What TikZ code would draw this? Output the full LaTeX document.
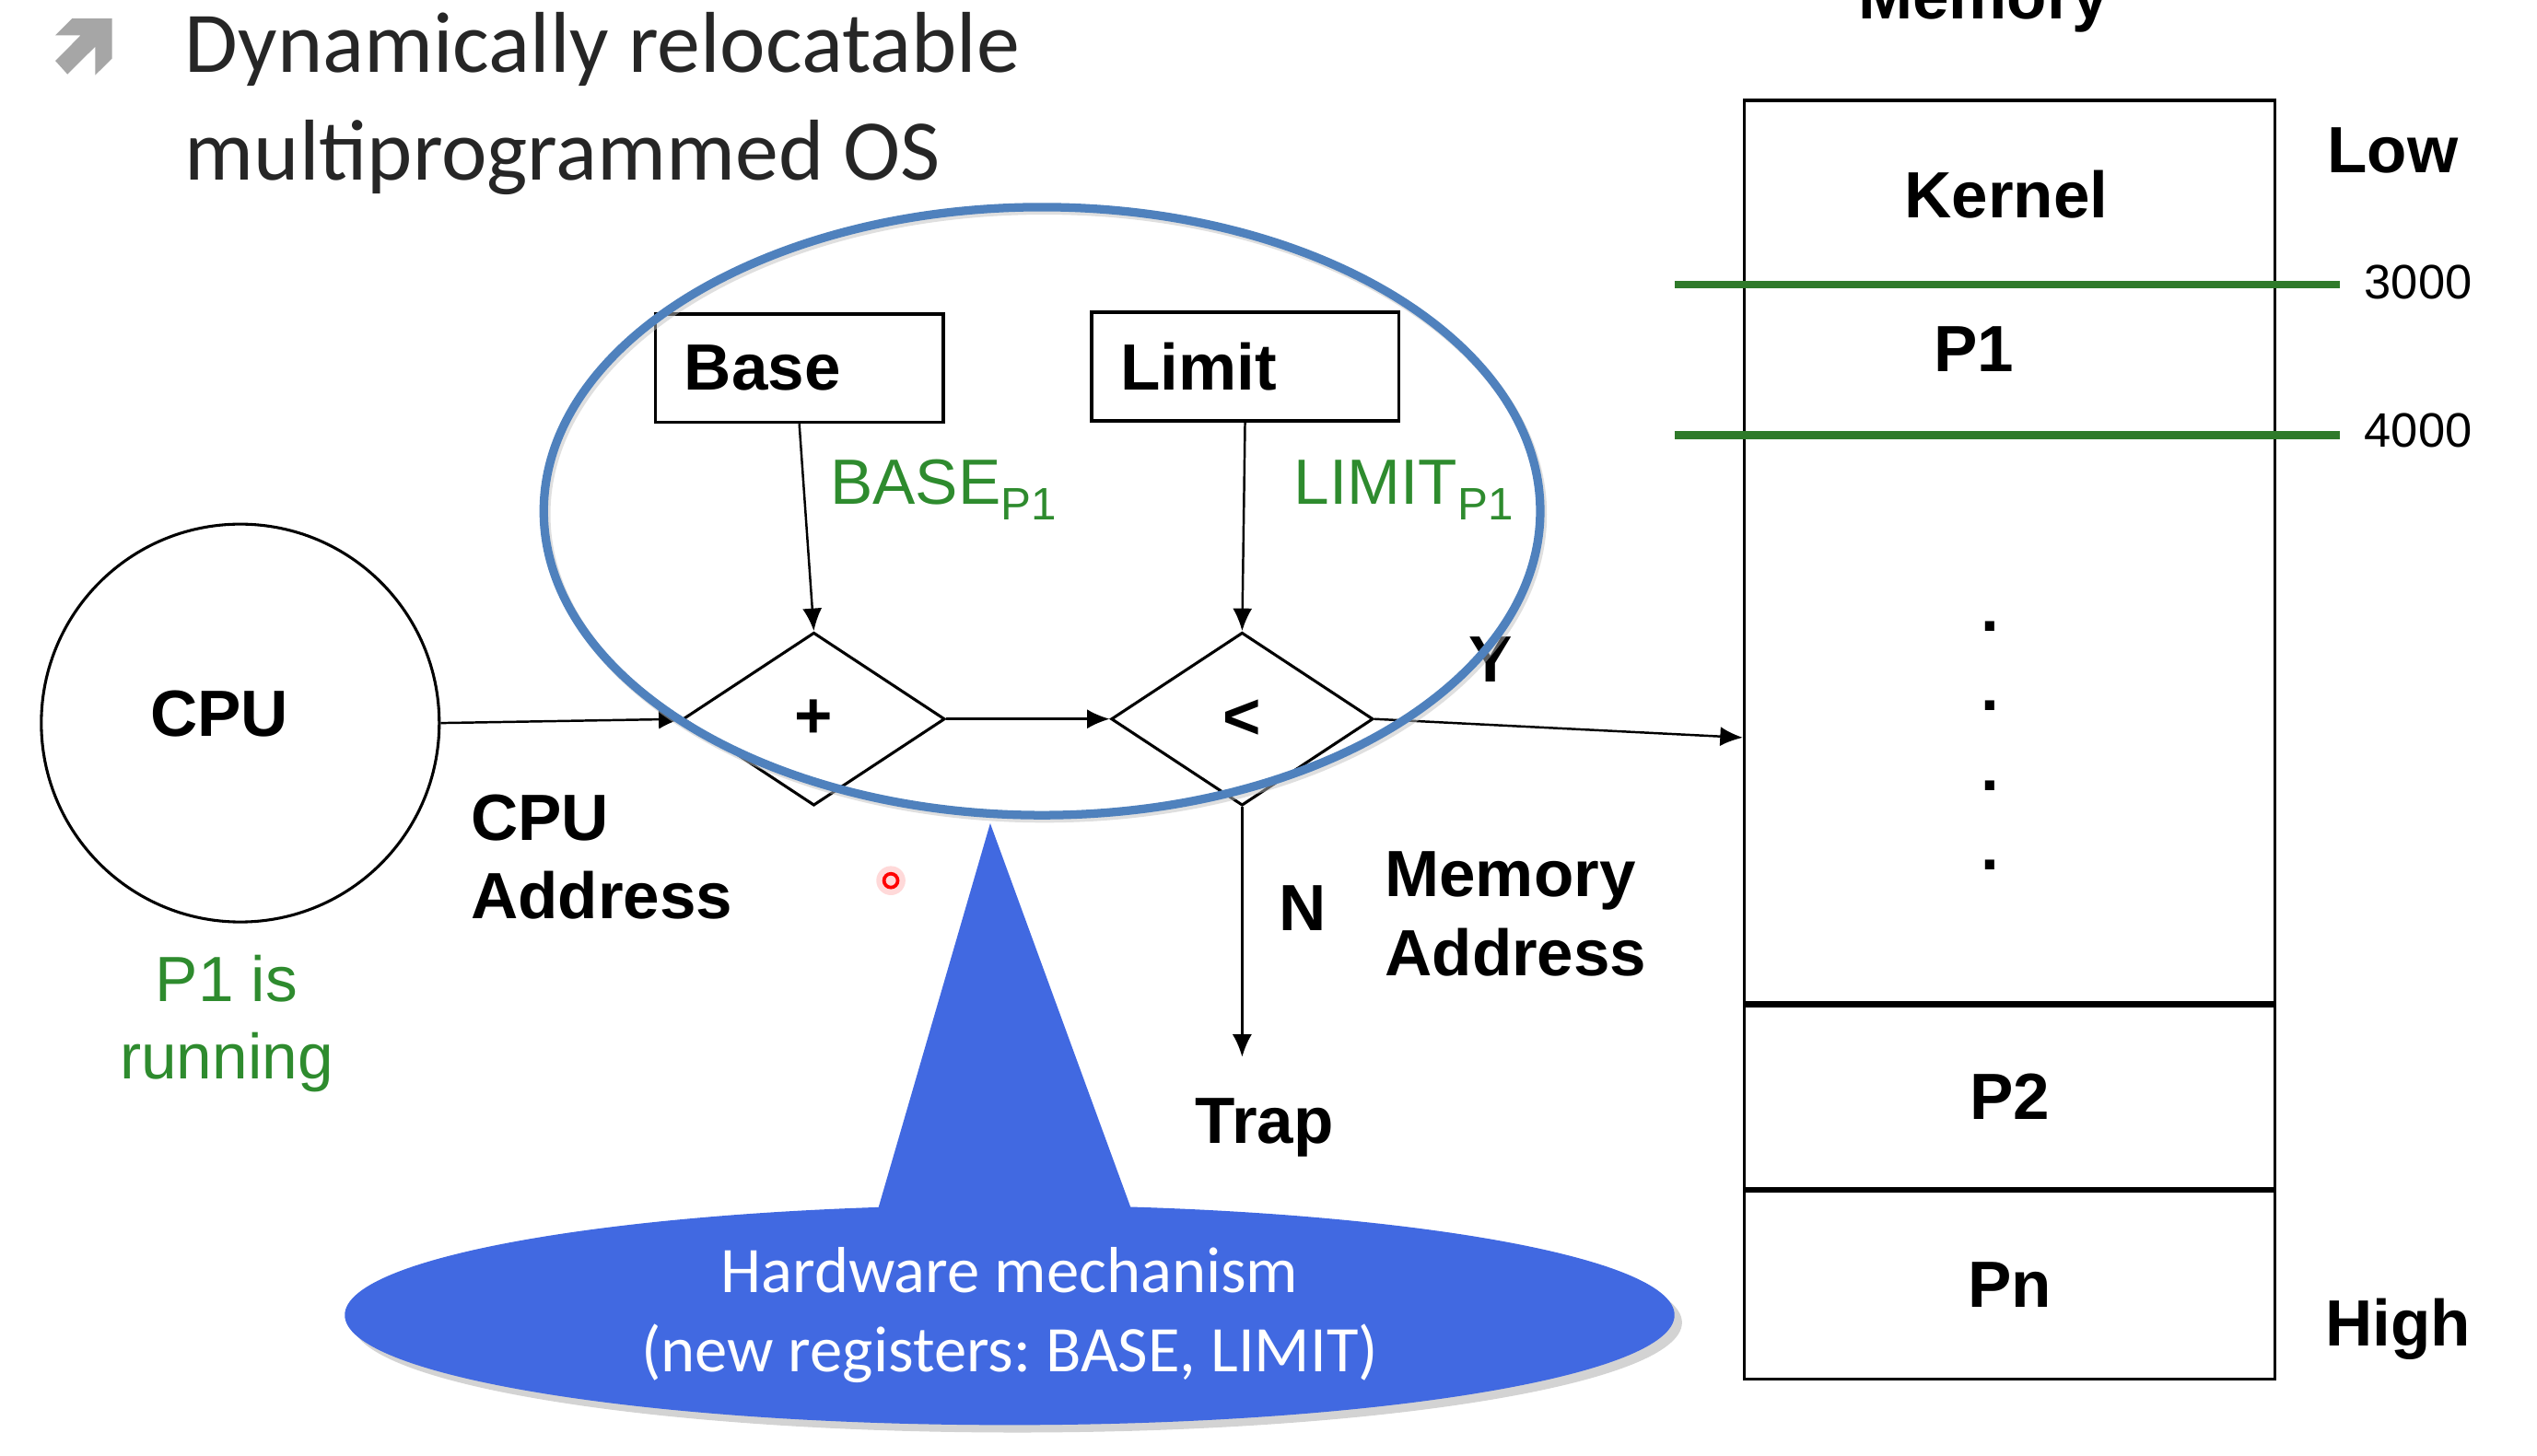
\documentclass[tikz,border=0pt]{standalone}
\usepackage{fontspec}
\setmainfont{Liberation Sans}
\newfontfamily\slidefont{Carlito}
\usepackage{tikz}
\usetikzlibrary{shapes.geometric,arrows.meta,positioning,backgrounds,shadows}
\frenchspacing

\definecolor{ringblue}{RGB}{79,129,189}
\definecolor{bubbleblue}{RGB}{65,105,225}
\definecolor{valgreen}{RGB}{46,139,46}
\definecolor{bandgreen}{RGB}{47,122,42}
\definecolor{bulletgray}{RGB}{166,166,166}

\begin{document}
\begin{tikzpicture}[
    x=0.02cm, y=-0.02cm,
    lbl/.style={inner sep=0pt, font=\fontsize{23}{27.6}\selectfont\bfseries},
    val/.style={inner sep=0pt, text=valgreen, font=\fontsize{22.5}{27.3}\selectfont},
    addr/.style={inner sep=0pt, font=\fontsize{17}{20}\selectfont},
    proc/.style={
        circle,
        draw,
        line width=1pt,
        minimum size=4.92cm,
        inner sep=0pt
    },
    reg/.style={
        rectangle,
        draw,
        line width=1.2pt,
        minimum height=1.34cm,
        text width=#1,
        align=left,
        inner xsep=0.36cm,
        font=\fontsize{23}{27.6}\selectfont\bfseries
    },
    gate/.style={
        diamond,
        draw,
        line width=1pt,
        minimum width=3.24cm,
        minimum height=2.14cm,
        inner sep=0pt,
        font=\fontsize{23}{27.6}\selectfont\bfseries
    },
    cell/.style={
        rectangle,
        draw,
        line width=1pt,
        minimum width=6.56cm,
        minimum height=#1,
        font=\fontsize{23}{27.6}\selectfont\bfseries
    },
    arrow/.style={->, >={Latex[length=2.8mm,width=2.4mm]}, line width=0.8pt},
    bandline/.style={draw=bandgreen, line width=2.7pt}
]
\useasboundingbox (0,0) rectangle (1568,900);

% Title
\fill[bulletgray] (44.6,11.4) -- (69.3,11.4) -- (69.3,36.1) -- (58.8,46.5) -- (58.8,28.9) -- (41.7,45.9) -- (34.2,37.6) -- (49.9,21.8) -- (34.2,21.8) -- cycle;
\node[anchor=west, inner sep=0pt, align=left, text=black!85, font=\slidefont\fontsize{30.4}{37.7}\selectfont] (title) at (114,64) {Dynamically relocatable\\multiprogrammed OS};

% Memory
\node[lbl, anchor=base] (memtitle) at (1226,11.6) {Memory};
\node[cell=11.16cm] (upper) at (1242,341) {};
\node[cell=2.26cm, below=0pt of upper] (ptwo) {P2};
\node[cell=2.32cm, below=0pt of ptwo] (pn) {Pn};
\node[lbl, anchor=base] (kernel) at (1240,134.6) {Kernel};
\node[lbl, anchor=base] (pone) at (1220,229.6) {P1};
\node[lbl, align=center, font=\fontsize{23}{28}\selectfont\bfseries] (dots) at (1230,461) {.\\.\\.\\.};
\node[lbl, anchor=base west] (low) at (1438,106.6) {Low};
\node[lbl, anchor=base west] (high) at (1437,832) {High};

% Partition lines
\coordinate (b3a) at (1035,176);
\coordinate (b3b) at (1446,176);
\coordinate (b4a) at (1035,269);
\coordinate (b4b) at (1446,269);
\draw[bandline] (b3a) -- (b3b);
\draw[bandline] (b4a) -- (b4b);
\node[addr, anchor=base west] (athree) at (1461,184.6) {3000};
\node[addr, anchor=base west] (afour) at (1461,276.6) {4000};

% CPU
\node[proc] (cpu) at (148.5,447) {};
\node[lbl] (cputext) at (135.6,441) {CPU};
\node[val, align=center] (running) at (140,633) {P1 is\\running};
\node[lbl, anchor=west, align=left] (cpuaddr) at (290.8,530) {CPU\\Address};

% Registers and checks
\node[reg=2.84cm] (base) at (494,227.5) {Base};
\node[reg=3.08cm] (limit) at (769.5,226.5) {Limit};
\node[gate] (plus) at (503,444.5) {+};
\node[gate, right=2.02cm of plus] (less) {<};
\node[val, anchor=base west] (baseval) at (512.7,311.7) {BASE\raisebox{-5.4pt}{\fontsize{16}{16}\selectfont P1}};
\node[val, anchor=base west] (limitval) at (799.5,311.7) {LIMIT\raisebox{-5.4pt}{\fontsize{16}{16}\selectfont P1}};
\node[lbl, anchor=base] (yes) at (921.5,421.6) {Y};
\node[lbl, anchor=base] (no) at (805,575.4) {N};
\node[lbl, anchor=base west] (trap) at (738.5,706.6) {Trap};
\node[lbl, anchor=west, align=left] (memaddr) at (855.6,565) {Memory\\Address};

% Arrows
\draw[arrow] (cpu.east) -- (plus.west);
\draw[arrow] (base.south) -- (plus.north);
\draw[arrow] (limit.south) -- (less.north);
\draw[arrow] (plus.east) -- (less.west);
\draw[arrow] (less.east) -- ([yshift=-2.3cm]upper.west);
\draw[arrow] (less.south) -- ([yshift=0.5cm]less.south |- trap.north);

% Hardware ring
\node[ellipse, draw=black!25, line width=3pt, minimum width=12.32cm, minimum height=7.52cm, opacity=0.5] (ringshade) at (645.5,318) {};
\node[ellipse, draw=ringblue, line width=3pt, minimum width=12.32cm, minimum height=7.52cm] (ring) at (644,316) {};

% Callout
\node[ellipse, fill=bubbleblue, minimum width=16.44cm, minimum height=2.72cm, inner sep=0pt, align=center, text=white, font=\slidefont\fontsize{22.9}{27.8}\selectfont, drop shadow={opacity=0.35}] (mech) at (624,813) {Hardware mechanism\\(new registers: BASE, LIMIT)};
\coordinate (tip) at (612,509);
\begin{pgfonlayer}{background}
    \fill[bubbleblue] (tip) -- ([xshift=-1.64cm,yshift=-0.1cm]mech.north) -- ([xshift=1.52cm,yshift=-0.1cm]mech.north) -- cycle;
\end{pgfonlayer}

% Pointer
\fill[red!15] (550.6,544.4) circle (0.18cm);
\node[circle, draw=red, line width=1.2pt, minimum size=0.17cm, inner sep=0pt] (pointer) at (550.6,544.4) {};

\end{tikzpicture}
\end{document}
